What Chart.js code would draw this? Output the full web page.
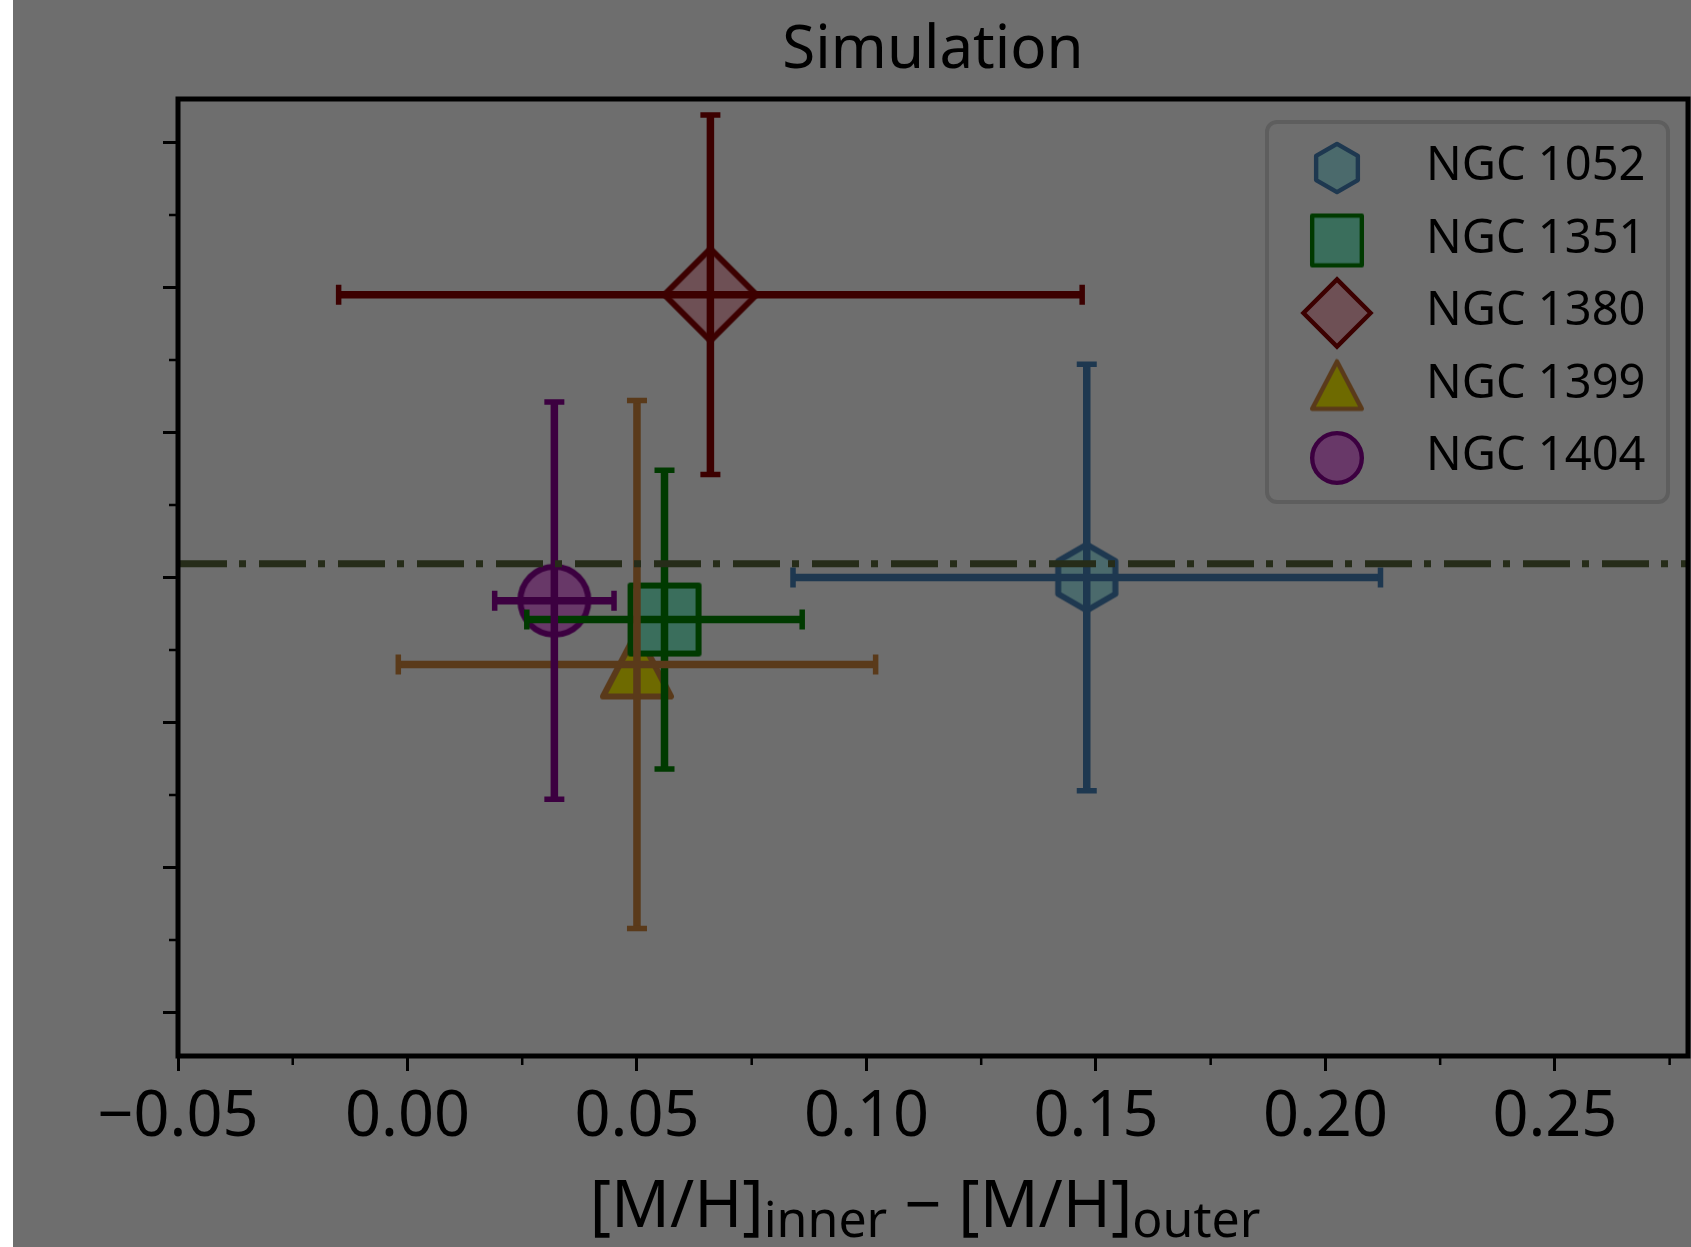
<!DOCTYPE html>
<html>
<head>
<meta charset="utf-8">
<script src="https://cdn.jsdelivr.net/npm/chart.js@4.4.1/dist/chart.umd.min.js"></script>
<style>
  html, body { margin: 0; padding: 0; background: #ffffff; }
  #wrap { position: absolute; left: 13px; top: 0; width: 1678px; height: 1247px; background: #6e6e6e; }
</style>
</head>
<body>
<div id="wrap"><canvas id="chart" width="1678" height="1247"></canvas></div>
<script>
// values
const galaxies = ["NGC 1052", "NGC 1351", "NGC 1380", "NGC 1399", "NGC 1404"];
const metalDiff = [0.148, 0.056, 0.066, 0.050, 0.032];
const metalDiffErr = [0.064, 0.030, 0.081, 0.052, 0.013];
const yValues = [0.000, -0.029, 0.195, -0.060, -0.016];
const yErrors = [0.147, 0.103, 0.124, 0.182, 0.137];
const refLevel = 0.0094;

const xTicks = [-0.05, 0.00, 0.05, 0.10, 0.15, 0.20, 0.25];
const xMinorTicks = [-0.025, 0.025, 0.075, 0.125, 0.175, 0.225, 0.275];
const yTicks = [-0.3, -0.2, -0.1, 0.0, 0.1, 0.2, 0.3];
const yMinorTicks = [-0.25, -0.15, -0.05, 0.05, 0.15, 0.25];

const shapes = ["hexagon", "square", "diamond", "triangle", "circle"];
const fillColors = ["#4b6a6c", "#3a6e5c", "#6e5055", "#6e6a00", "#683868"];
const edgeColors = ["#1e3850", "#003a00", "#3c0000", "#5a3a1a", "#3c0040"];

const FONT = "'Noto Sans', sans-serif";
Chart.defaults.font.family = FONT;
Chart.defaults.color = "#000";

function makeMarker(shape, fill, edge, scale) {
    const size = Math.ceil(112 * scale);
    const c = document.createElement("canvas");
    c.width = size;
    c.height = size;
    const g = c.getContext("2d");
    g.translate(size / 2, size / 2);
    g.scale(scale, scale);
    g.beginPath();
    g.lineJoin = "round";
    if (shape === "hexagon") {
        for (let i = 0; i < 6; i++) {
            let a = -Math.PI / 2 + i * Math.PI / 3;
            let px = 33 * Math.cos(a), py = 33 * Math.sin(a);
            if (i === 0) g.moveTo(px, py); else g.lineTo(px, py);
        }
        g.closePath();
    } else if (shape === "square") {
        g.rect(-34, -34, 68, 68);
    } else if (shape === "diamond") {
        g.moveTo(0, -46);
        g.lineTo(46, 0);
        g.lineTo(0, 46);
        g.lineTo(-46, 0);
        g.closePath();
        g.lineJoin = "miter";
    } else if (shape === "triangle") {
        g.moveTo(0, -33);
        g.lineTo(34, 32);
        g.lineTo(-34, 32);
        g.closePath();
    } else {
        g.arc(0, 0, 34, 0, Math.PI * 2);
    }
    g.fillStyle = fill;
    g.fill();
    g.lineWidth = 6;
    g.strokeStyle = edge;
    g.stroke();
    return c;
}

const plotMarkers = shapes.map((s, i) => makeMarker(s, fillColors[i], edgeColors[i], 1));
const legendMarkers = shapes.map((s, i) => makeMarker(s, fillColors[i], edgeColors[i], 0.73));

function fmtTick(v) {
    if (Math.abs(v) < 1e-9) return "0.00";
    return (v < 0 ? "\u2212" : "") + Math.abs(v).toFixed(2);
}

// error bars and the dash-dot reference level, on top of the markers
const errorBars = {
    id: "errorBars",
    afterDatasetsDraw(chart) {
        const { ctx, chartArea, scales: { x, y } } = chart;
        ctx.save();
        ctx.beginPath();
        ctx.rect(chartArea.left, chartArea.top, chartArea.width, chartArea.height);
        ctx.clip();
        galaxies.forEach((name, i) => {
            let px = x.getPixelForValue(metalDiff[i]);
            let py = y.getPixelForValue(yValues[i]);
            let xl = x.getPixelForValue(metalDiff[i] - metalDiffErr[i]);
            let xr = x.getPixelForValue(metalDiff[i] + metalDiffErr[i]);
            let yt = y.getPixelForValue(yValues[i] + yErrors[i]);
            let yb = y.getPixelForValue(yValues[i] - yErrors[i]);
            ctx.strokeStyle = edgeColors[i];
            ctx.lineCap = "butt";
            ctx.lineWidth = 7.5;
            ctx.beginPath();
            ctx.moveTo(xl, py); ctx.lineTo(xr, py);
            ctx.moveTo(px, yt); ctx.lineTo(px, yb);
            ctx.stroke();
            ctx.lineWidth = 5.5;
            ctx.beginPath();
            ctx.moveTo(xl, py - 10); ctx.lineTo(xl, py + 10);
            ctx.moveTo(xr, py - 10); ctx.lineTo(xr, py + 10);
            ctx.moveTo(px - 10, yt); ctx.lineTo(px + 10, yt);
            ctx.moveTo(px - 10, yb); ctx.lineTo(px + 10, yb);
            ctx.stroke();
        });
        let ry = y.getPixelForValue(refLevel);
        ctx.strokeStyle = "#262c19";
        ctx.lineWidth = 7;
        ctx.setLineDash([47, 12, 7, 13]);
        ctx.lineDashOffset = -2;
        ctx.beginPath();
        ctx.moveTo(chartArea.left, ry);
        ctx.lineTo(chartArea.right, ry);
        ctx.stroke();
        ctx.restore();
    }
};

// frame, minor ticks, x label with subscripts and the legend box
const decorations = {
    id: "decorations",
    afterDraw(chart) {
        const { ctx, chartArea, scales: { x, y } } = chart;
        ctx.save();
        ctx.strokeStyle = "#000";
        ctx.lineWidth = 2.5;
        ctx.beginPath();
        xMinorTicks.forEach(v => {
            let px = x.getPixelForValue(v);
            ctx.moveTo(px, chartArea.bottom);
            ctx.lineTo(px, chartArea.bottom + 9);
        });
        yMinorTicks.forEach(v => {
            let py = y.getPixelForValue(v);
            ctx.moveTo(chartArea.left - 9, py);
            ctx.lineTo(chartArea.left, py);
        });
        ctx.stroke();

        ctx.lineWidth = 5;
        ctx.strokeRect(chartArea.left, chartArea.top, chartArea.width, chartArea.height);

        // x axis title: [M/H]_inner − [M/H]_outer
        const big = "65px " + FONT, small = "50px " + FONT;
        const parts = [["[M/H]", big, 0], ["inner", small, 10], [" \u2212 ", big, 0], ["[M/H]", big, 0], ["outer", small, 10]];
        let total = 0;
        parts.forEach(p => { ctx.font = p[1]; total += ctx.measureText(p[0]).width; });
        let tx = (chartArea.left + chartArea.right) / 2 - 8 - total / 2;
        const base = 1227;
        ctx.fillStyle = "#000";
        ctx.textBaseline = "alphabetic";
        ctx.textAlign = "left";
        parts.forEach(p => {
            ctx.font = p[1];
            ctx.fillText(p[0], tx, base + p[2]);
            tx += ctx.measureText(p[0]).width;
        });

        // legend
        const lx = 1254, ly = 122, lw = 401, lh = 380;
        ctx.beginPath();
        ctx.roundRect(lx, ly, lw, lh, 10);
        ctx.fillStyle = "#6e6e6e";
        ctx.fill();
        ctx.strokeStyle = "#5e5e5e";
        ctx.lineWidth = 4;
        ctx.stroke();
        ctx.font = "47px " + FONT;
        ctx.fillStyle = "#000";
        ctx.textBaseline = "middle";
        galaxies.forEach((name, i) => {
            let rowY = 168 + i * 72.5;
            let m = legendMarkers[i];
            ctx.drawImage(m, 1324 - m.width / 2, rowY - m.height / 2);
            ctx.fillText(name, 1413, rowY - 1);
        });
        ctx.restore();
    }
};

const datasets = galaxies.map((name, i) => ({
    label: name,
    data: [{ x: metalDiff[i], y: yValues[i] }],
    pointStyle: plotMarkers[i],
    pointRadius: 40,
    pointHoverRadius: 40,
    showLine: false
}));

new Chart(document.getElementById("chart"), {
    type: "scatter",
    data: { datasets },
    options: {
        responsive: false,
        animation: false,
        layout: { autoPadding: false, padding: { left: 0, right: 3, top: 0, bottom: 0 } },
        plugins: {
            legend: { display: false },
            tooltip: { enabled: false },
            title: {
                display: true,
                text: "Simulation",
                fullSize: false,
                color: "#000",
                font: { size: 60, weight: "normal", family: FONT, lineHeight: 1.2 },
                padding: { top: 15, bottom: 12 }
            }
        },
        scales: {
            x: {
                type: "linear",
                min: -0.05,
                max: 0.279,
                afterBuildTicks: scale => { scale.ticks = xTicks.map(v => ({ value: v })); },
                afterFit: scale => { scale.height = 191; scale.paddingLeft = 0; scale.paddingRight = 0; },
                border: { display: false },
                grid: { drawOnChartArea: false, drawTicks: true, tickLength: 15, tickWidth: 3, tickColor: "#000" },
                ticks: {
                    autoSkip: false,
                    maxRotation: 0,
                    padding: 9,
                    color: "#000",
                    font: { size: 63, family: FONT },
                    callback: v => fmtTick(v)
                }
            },
            y: {
                type: "linear",
                min: -0.33,
                max: 0.33,
                afterBuildTicks: scale => { scale.ticks = yTicks.map(v => ({ value: v })); },
                afterFit: scale => { scale.width = 165; scale.paddingTop = 0; scale.paddingBottom = 0; },
                border: { display: false },
                grid: { drawOnChartArea: false, drawTicks: true, tickLength: 15, tickWidth: 3, tickColor: "#000" },
                ticks: { display: false }
            }
        }
    },
    plugins: [errorBars, decorations]
});
</script>
</body>
</html>
